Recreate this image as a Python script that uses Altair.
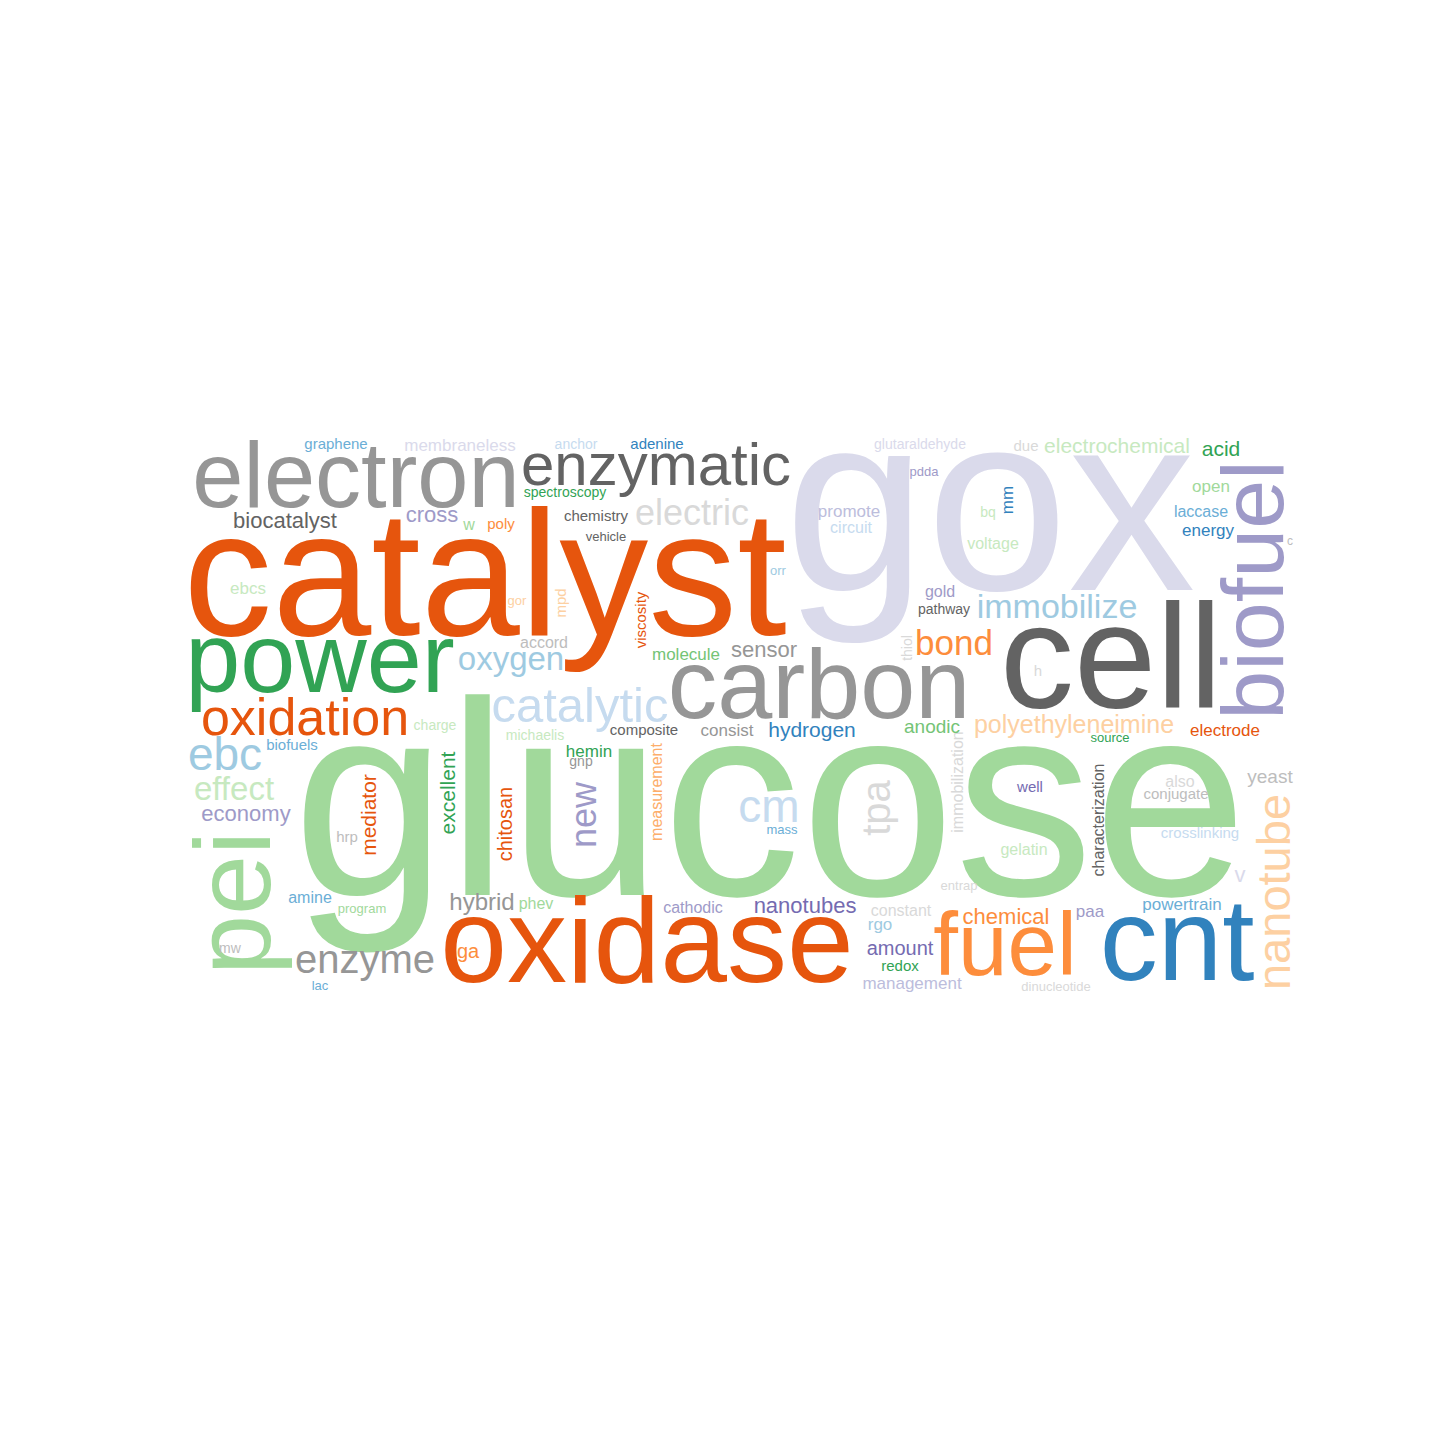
import altair as alt
import pandas as pd

# word, centre x, baseline y, font size, colour, angle
words = [
    ("glucose", 770, 895, 277, "#a1d99b", 0),
    ("gox", 990, 590, 255, "#dadaeb", 0),
    ("catalyst", 485, 635, 178, "#e6550d", 0),
    ("electron", 356, 507, 92, "#969696", 0),
    ("enzymatic", 656, 485, 60, "#636363", 0),
    ("cell", 1111, 708, 148, "#636363", 0),
    ("biofuel", 1283, 590, 88, "#9e9ac8", 270),
    ("power", 320, 692, 99, "#31a354", 0),
    ("oxidation", 305, 735, 52, "#e6550d", 0),
    ("carbon", 819, 718, 99, "#969696", 0),
    ("oxidase", 647, 982, 120, "#e6550d", 0),
    ("fuel", 1005, 975, 89, "#fd8d3c", 0),
    ("cnt", 1177, 980, 116, "#3182bd", 0),
    ("pei", 270, 903, 108, "#a1d99b", 270),
    ("nanotube", 1290, 892, 47, "#fdd0a2", 270),
    ("catalytic", 580, 722, 49, "#c6dbef", 0),
    ("oxygen", 511, 670, 33, "#9ecae1", 0),
    ("immobilize", 1057, 618, 34, "#9ecae1", 0),
    ("bond", 954, 655, 35, "#fd8d3c", 0),
    ("electric", 692, 525, 36, "#d9d9d9", 0),
    ("ebc", 225, 770, 46, "#9ecae1", 0),
    ("effect", 234, 800, 33, "#c7e9c0", 0),
    ("economy", 246, 821, 22, "#9e9ac8", 0),
    ("biocatalyst", 285, 528, 22, "#636363", 0),
    ("cross", 432, 522, 22, "#9e9ac8", 0),
    ("enzyme", 365, 973, 40, "#969696", 0),
    ("hybrid", 482, 910, 24, "#969696", 0),
    ("cm", 769, 822, 46, "#c6dbef", 0),
    ("new", 596, 815, 36, "#9e9ac8", 270),
    ("tpa", 890, 808, 40, "#d9d9d9", 270),
    ("mediator", 376, 815, 21, "#e6550d", 270),
    ("excellent", 455, 793, 21, "#31a354", 270),
    ("chitosan", 512, 824, 20, "#e6550d", 270),
    ("measurement", 662, 792, 16, "#fdae6b", 270),
    ("immobilization", 963, 782, 16, "#d9d9d9", 270),
    ("characterization", 1104, 820, 16, "#636363", 270),
    ("viscosity", 646, 620, 15, "#e6550d", 270),
    ("mpd", 566, 603, 15, "#fdd0a2", 270),
    ("thiol", 912, 648, 14, "#d9d9d9", 270),
    ("mm", 1013, 500, 17, "#3182bd", 270),
    ("polyethyleneimine", 1074, 733, 25, "#fdd0a2", 0),
    ("hydrogen", 812, 737, 21, "#3182bd", 0),
    ("anodic", 932, 733, 19, "#74c476", 0),
    ("electrode", 1225, 736, 17, "#e6550d", 0),
    ("source", 1110, 742, 13, "#31a354", 0),
    ("sensor", 764, 657, 22, "#969696", 0),
    ("molecule", 686, 660, 17, "#74c476", 0),
    ("accord", 544, 648, 16, "#bdbdbd", 0),
    ("composite", 644, 735, 15, "#636363", 0),
    ("consist", 727, 736, 17, "#969696", 0),
    ("michaelis", 535, 740, 14, "#c7e9c0", 0),
    ("hemin", 589, 757, 17, "#31a354", 0),
    ("gnp", 581, 766, 14, "#969696", 0),
    ("mass", 782, 834, 13, "#6baed6", 0),
    ("charge", 435, 730, 14, "#c7e9c0", 0),
    ("biofuels", 292, 750, 15, "#6baed6", 0),
    ("hrp", 347, 842, 15, "#bdbdbd", 0),
    ("amine", 310, 903, 16, "#6baed6", 0),
    ("program", 362, 913, 13, "#a1d99b", 0),
    ("mw", 230, 953, 14, "#bdbdbd", 0),
    ("lac", 320, 990, 13, "#6baed6", 0),
    ("ga", 468, 958, 20, "#fd8d3c", 0),
    ("phev", 536, 909, 16, "#a1d99b", 0),
    ("cathodic", 693, 913, 16, "#9e9ac8", 0),
    ("nanotubes", 805, 913, 22, "#756bb1", 0),
    ("constant", 901, 916, 16, "#d9d9d9", 0),
    ("rgo", 880, 930, 17, "#9ecae1", 0),
    ("amount", 900, 955, 20, "#756bb1", 0),
    ("redox", 900, 971, 15, "#31a354", 0),
    ("management", 912, 989, 17, "#bcbddc", 0),
    ("chemical", 1006, 924, 22, "#fd8d3c", 0),
    ("paa", 1090, 917, 17, "#9e9ac8", 0),
    ("powertrain", 1182, 910, 17, "#6baed6", 0),
    ("dinucleotide", 1056, 991, 13, "#d9d9d9", 0),
    ("entrap", 959, 890, 13, "#d9d9d9", 0),
    ("gelatin", 1024, 855, 16, "#c7e9c0", 0),
    ("well", 1030, 792, 15, "#756bb1", 0),
    ("also", 1180, 787, 16, "#d9d9d9", 0),
    ("conjugate", 1176, 799, 15, "#bdbdbd", 0),
    ("yeast", 1270, 783, 19, "#bdbdbd", 0),
    ("crosslinking", 1200, 838, 15, "#c6dbef", 0),
    ("v", 1240, 882, 22, "#dadaeb", 0),
    ("h", 1038, 676, 15, "#d9d9d9", 0),
    ("gold", 940, 597, 16, "#9e9ac8", 0),
    ("pathway", 944, 614, 14, "#636363", 0),
    ("orr", 778, 575, 13, "#9ecae1", 0),
    ("gor", 517, 605, 13, "#fdd0a2", 0),
    ("ebcs", 248, 594, 17, "#c7e9c0", 0),
    ("promote", 849, 517, 17, "#bcbddc", 0),
    ("circuit", 851, 533, 16, "#c6dbef", 0),
    ("bq", 988, 517, 14, "#c7e9c0", 0),
    ("voltage", 993, 549, 16, "#c7e9c0", 0),
    ("pdda", 924, 476, 13, "#9e9ac8", 0),
    ("glutaraldehyde", 920, 449, 14, "#dadaeb", 0),
    ("due", 1026, 451, 15, "#d9d9d9", 0),
    ("electrochemical", 1117, 453, 21, "#c7e9c0", 0),
    ("acid", 1221, 456, 21, "#31a354", 0),
    ("open", 1211, 492, 17, "#a1d99b", 0),
    ("laccase", 1201, 517, 16, "#6baed6", 0),
    ("energy", 1208, 536, 17, "#3182bd", 0),
    ("c", 1290, 545, 12, "#bdbdbd", 0),
    ("graphene", 336, 449, 15, "#6baed6", 0),
    ("membraneless", 460, 451, 17, "#dadaeb", 0),
    ("anchor", 576, 449, 14, "#c6dbef", 0),
    ("adenine", 657, 449, 15, "#3182bd", 0),
    ("spectroscopy", 565, 497, 14, "#31a354", 0),
    ("w", 469, 530, 16, "#a1d99b", 0),
    ("poly", 501, 529, 15, "#fd8d3c", 0),
    ("chemistry", 596, 521, 15, "#636363", 0),
    ("vehicle", 606, 541, 13, "#636363", 0),
]

df = pd.DataFrame(words, columns=["word", "x", "y", "size", "color", "angle"])

chart = (
    alt.Chart(df)
    .mark_text(font="Liberation Sans", align="center", baseline="alphabetic")
    .encode(
        x=alt.X("x:Q", scale=alt.Scale(domain=[8, 1432]), axis=None),
        y=alt.Y("y:Q", scale=alt.Scale(domain=[8, 1432], reverse=True), axis=None),
        text="word:N",
        size=alt.Size("size:Q", scale=None),
        color=alt.Color("color:N", scale=None),
        angle=alt.Angle("angle:Q", scale=None),
    )
    .properties(width=1424, height=1424, padding=0, autosize=alt.AutoSizeParams(type="none"))
    .configure_view(strokeWidth=0)
)

chart.save("out.html", embed_options={"renderer": "svg", "actions": False})
